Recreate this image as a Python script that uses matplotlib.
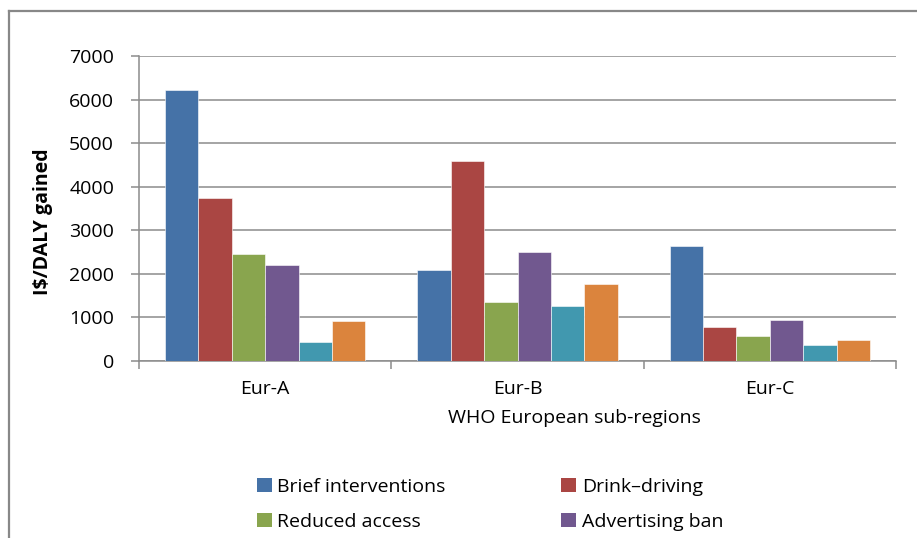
import matplotlib
matplotlib.use('Agg')
import matplotlib.pyplot as plt
import numpy as np
from matplotlib.patches import Patch
from matplotlib.lines import Line2D

# values (I$ per DALY gained)
regions = ['Eur-A', 'Eur-B', 'Eur-C']
brief_interventions = [6230, 2095, 2650]
drink_driving = [3735, 4585, 775]
reduced_access = [2450, 1355, 565]
advertising_ban = [2210, 2510, 950]
tax_current = [445, 1270, 360]
tax_increased = [920, 1765, 475]

series = [
    ('Brief interventions', brief_interventions, '#4572A7'),
    ('Drink\u2013driving', drink_driving, '#AA4643'),
    ('Reduced access', reduced_access, '#89A54E'),
    ('Advertising ban', advertising_ban, '#71588F'),
    ('Tax (current)', tax_current, '#4198AF'),
    ('Tax (increased)', tax_increased, '#DB843D'),
]
legend_shown = 4  # the lower legend row is cut off in the original

plt.rcParams['font.family'] = ['Open Sans', 'DejaVu Sans']
W, H = 917, 538
fig = plt.figure(figsize=(W / 100, H / 100), dpi=100)
ax = fig.add_axes([139 / W, 1 - 361 / H, (896 - 139) / W, (361 - 56) / H])

x = np.arange(len(regions))
bw = 0.1325
n = len(series)
for i, (name, vals, col) in enumerate(series):
    ax.bar(x - n * bw / 2 + (i + 0.5) * bw, vals, width=bw, color=col,
           edgecolor='white', linewidth=0.4, label=name, zorder=3)

ax.set_xlim(-0.5, len(regions) - 0.5)
ax.set_ylim(0, 7000)
ax.set_yticks(np.arange(0, 7001, 1000))
ax.yaxis.grid(True, color='#8c8c8c', linewidth=1.1, zorder=0)

grey = '#8c8c8c'
for s in ['top', 'right']:
    ax.spines[s].set_visible(False)
for s in ['left', 'bottom']:
    ax.spines[s].set_color(grey)
    ax.spines[s].set_linewidth(1.1)

ax.set_xticks(np.arange(-0.5, len(regions)), labels=[])
ax.set_xticks(x, labels=regions, minor=True)
ax.tick_params(axis='x', which='major', length=6, width=1.1, color=grey,
               direction='out')
ax.tick_params(axis='x', which='minor', length=0, pad=14, labelsize=14)
ax.tick_params(axis='y', length=6, width=1.1, color=grey, pad=12,
               labelsize=14)

fig.text(574 / W, 1 - 418 / H, 'WHO European sub-regions', ha='center',
         va='center', fontsize=14)
fig.text(43 / W, 1 - 222 / H, 'I$/DALY gained', ha='center', va='center',
         rotation=90, fontsize=14, fontweight='bold')

# row-wise order like the original legend
order = [0, 2, 1, 3]
handles = [Patch(facecolor=series[k][2], edgecolor='none') for k in order[:legend_shown]]
labels = [series[k][0] for k in order[:legend_shown]]
fig.legend(handles, labels, loc='upper left', ncol=2,
           bbox_to_anchor=(257 / W, 1 - 478 / H), frameon=False,
           fontsize=14, handlelength=0.75, handleheight=0.75,
           handletextpad=0.3, columnspacing=5.95, labelspacing=0.85,
           borderpad=0, borderaxespad=0)

# chart area border (right and bottom edges fall outside the picture)
fig.add_artist(Line2D([9 / W, 9 / W], [0, 1 - 11 / H], color='#888888',
                      linewidth=1.6, transform=fig.transFigure))
fig.add_artist(Line2D([9 / W, 1], [1 - 11 / H, 1 - 11 / H], color='#888888',
                      linewidth=1.6, transform=fig.transFigure))

fig.savefig('out.png', dpi=100)
